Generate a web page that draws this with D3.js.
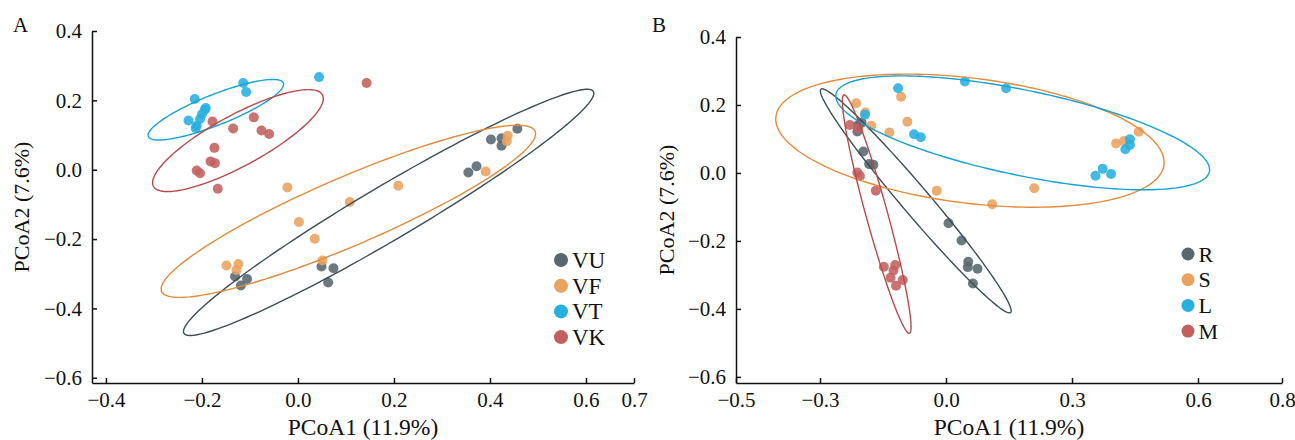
<!DOCTYPE html>
<html>
<head>
<meta charset="utf-8">
<script src="https://cdn.jsdelivr.net/npm/d3@7"></script>
<style>
  body { margin: 0; background: #fff; }
  svg text { font-family: "Liberation Serif", "Times New Roman", serif; fill: #111; }
</style>
</head>
<body>
<div id="chart"></div>
<script>
"use strict";

// ---- data ----
// panel A groups
let groupsA = ["VU", "VF", "VT", "VK"];
let ptsVU = [[0.457,0.118],[0.402,0.087],[0.424,0.091],[0.424,0.069],[0.355,-0.008],[0.372,0.010],
             [0.049,-0.279],[0.074,-0.284],[0.063,-0.325],[-0.131,-0.308],[-0.106,-0.315],[-0.119,-0.334]];
let ptsVF = [[-0.022,-0.051],[0.209,-0.046],[0.108,-0.093],[0.391,-0.005],[0.437,0.098],[0.435,0.082],
             [0.035,-0.199],[0.051,-0.262],[0.002,-0.151],[-0.149,-0.276],[-0.124,-0.272],[-0.128,-0.289]];
let ptsVT = [[-0.215,0.204],[-0.228,0.142],[-0.211,0.127],[-0.204,0.146],[-0.194,0.173],[-0.192,0.178],
             [-0.213,0.120],[-0.200,0.160],[-0.114,0.250],[-0.108,0.224],[0.044,0.267]];
let ptsVK = [[-0.178,0.139],[-0.135,0.119],[-0.092,0.151],[-0.076,0.113],[-0.060,0.103],[-0.174,0.063],
             [-0.182,0.024],[-0.173,0.019],[-0.211,-0.002],[-0.204,-0.010],[-0.167,-0.055],[0.143,0.250]];

// ellipse: center, semi-axis vector, conjugate semi-axis vector (data units)
let ellCenterA = [[0.189,-0.123],[0.105,-0.120],[-0.171,0.173],[-0.125,0.084]];
let ellMajorA  = [[0.4265,0.3486],[0.389,0.231],[0.1406,0.0771],[0.176,0.132]];
let ellMinorA  = [[0.0286,-0.067],[0.0281,-0.0907],[0.0117,-0.041],[0.0254,-0.0647]];

// panel B groups
let groupsB = ["R", "S", "L", "M"];
let ptsR = [[-0.197,0.063],[-0.183,0.026],[-0.173,0.024],[-0.211,0.122],[-0.209,0.141],[-0.201,0.148],
            [0.006,-0.148],[0.037,-0.199],[0.053,-0.261],[0.052,-0.277],[0.075,-0.282],[0.064,-0.325]];
let ptsS = [[-0.214,0.205],[-0.192,0.178],[-0.178,0.139],[-0.135,0.119],[-0.107,0.224],[-0.092,0.151],
            [-0.022,-0.052],[0.210,-0.045],[0.110,-0.092],[0.405,0.087],[0.424,0.094],[0.459,0.121]];
let ptsL = [[-0.114,0.249],[-0.193,0.171],[-0.076,0.114],[-0.060,0.105],[0.045,0.269],[0.143,0.249],
            [0.438,0.099],[0.438,0.082],[0.427,0.070],[0.356,-0.008],[0.373,0.012],[0.393,-0.003]];
let ptsM = [[-0.229,0.141],[-0.209,0.131],[-0.211,0.001],[-0.205,-0.009],[-0.167,-0.052],[-0.148,-0.276],
            [-0.121,-0.271],[-0.125,-0.287],[-0.132,-0.308],[-0.103,-0.315],[-0.119,-0.332]];

let ellCenterB = [[-0.072,-0.082],[0.057,0.095],[0.1826,0.118],[-0.165,-0.121]];
let ellMajorB  = [[0.2257,-0.3285],[0.4619,-0.0712],[0.4445,-0.1141],[0.0779,-0.3506]];
let ellMinorB  = [[0.0254,0.0266],[-0.01845,-0.1824],[-0.0206,-0.1227],[0.0248,0.0084]];

// ticks
let ticksAx = [-0.4, -0.2, 0.0, 0.2, 0.4, 0.6, 0.7];
let ticksBx = [-0.5, -0.3, 0.0, 0.3, 0.6, 0.8];
let ticksY  = [-0.6, -0.4, -0.2, 0.0, 0.2, 0.4];

let xTitle = "PCoA1 (11.9%)";
let yTitle = "PCoA2 (7.6%)";

// colors shared by both panels (group order)
let pointColors = ["#56676e", "#e9a25f", "#27afe0", "#c26060"];
let lineColors  = ["#3b4e54", "#e38b3c", "#16a2d4", "#b84a4c"];

// ---- drawing ----
var width = 1295, height = 440;

var svg = d3.select("#chart").append("svg")
  .attr("width", width)
  .attr("height", height);

var fmt = d3.format(".1f");

function drawPanel(opt) {
  var x = d3.scaleLinear().domain(opt.xDomain).range(opt.xRange);
  var y = d3.scaleLinear().domain(opt.yDomain).range(opt.yRange);

  var g = svg.append("g");

  // points
  opt.points.forEach(function(pts, i) {
    g.append("g").selectAll("circle").data(pts)
      .enter().append("circle")
        .attr("cx", function(d) { return x(d[0]); })
        .attr("cy", function(d) { return y(d[1]); })
        .attr("r", 5)
        .style("fill", pointColors[i])
        .style("fill-opacity", 0.88);
  });

  // ellipses
  var line = d3.line()
    .x(function(d) { return x(d[0]); })
    .y(function(d) { return y(d[1]); })
    .curve(d3.curveLinearClosed);

  opt.centers.forEach(function(c, i) {
    var p = opt.majors[i], q = opt.minors[i];
    var ring = d3.range(0, 360, 2).map(function(a) {
      var t = a * Math.PI / 180;
      return [c[0] + Math.cos(t) * p[0] + Math.sin(t) * q[0],
              c[1] + Math.cos(t) * p[1] + Math.sin(t) * q[1]];
    });
    g.append("path")
      .attr("d", line(ring))
      .style("fill", "none")
      .style("stroke", lineColors[i])
      .style("stroke-width", 1.4);
  });

  // axes, ticks point inward
  var xAxis = g.append("g")
    .attr("transform", "translate(0," + opt.yRange[0] + ")")
    .call(d3.axisBottom(x).tickValues(opt.xTicks).tickFormat(fmt).tickSize(-5).tickSizeOuter(0).tickPadding(9));
  var yAxis = g.append("g")
    .attr("transform", "translate(" + opt.xRange[0] + ",0)")
    .call(d3.axisLeft(y).tickValues(ticksY).tickFormat(fmt).tickSize(-5).tickSizeOuter(0).tickPadding(10));

  [xAxis, yAxis].forEach(function(a) {
    a.selectAll("path, line").style("stroke", "#111").style("stroke-width", 1.5);
    a.selectAll("text").style("font-size", "21px").style("font-family", "'Liberation Serif', serif").style("fill", "#111");
  });

  // titles
  g.append("text")
    .attr("x", (opt.xRange[0] + opt.xRange[1]) / 2)
    .attr("y", 435)
    .attr("text-anchor", "middle")
    .style("font-size", "23.5px")
    .text(xTitle);

  g.append("text")
    .attr("transform", "translate(" + opt.yTitleX + "," + ((opt.yRange[0] + opt.yRange[1]) / 2) + ") rotate(-90)")
    .attr("text-anchor", "middle")
    .style("font-size", "22px")
    .text(yTitle);

  g.append("text")
    .attr("x", opt.letterX)
    .attr("y", 32)
    .style("font-size", "21px")
    .text(opt.letter);

  // legend
  var leg = g.append("g").selectAll("g").data(opt.groups)
    .enter().append("g")
      .attr("transform", function(d, i) { return "translate(" + opt.legX + "," + (opt.legY + i * 25.7) + ")"; });
  leg.append("circle")
    .attr("r", opt.legR)
    .style("fill", function(d, i) { return pointColors[i]; });
  leg.append("text")
    .attr("x", opt.legR + 4)
    .attr("dy", "0.35em")
    .style("font-size", opt.legFont)
    .text(function(d) { return d; });
}

drawPanel({
  letter: "A", letterX: 13,
  xDomain: [-0.429, 0.7], xRange: [92, 634],
  yDomain: [-0.615, 0.4], yRange: [383, 31],
  xTicks: ticksAx,
  points: [ptsVU, ptsVF, ptsVT, ptsVK],
  centers: ellCenterA, majors: ellMajorA, minors: ellMinorA,
  groups: groupsA,
  legX: 561, legY: 260, legR: 7, legFont: "23px",
  yTitleX: 29
});

drawPanel({
  letter: "B", letterX: 652,
  xDomain: [-0.5, 0.8], xRange: [736, 1282],
  yDomain: [-0.618, 0.4], yRange: [383, 37],
  xTicks: ticksBx,
  points: [ptsR, ptsS, ptsL, ptsM],
  centers: ellCenterB, majors: ellMajorB, minors: ellMinorB,
  groups: groupsB,
  legX: 1188, legY: 254, legR: 6.5, legFont: "22px",
  yTitleX: 674
});
</script>
</body>
</html>
